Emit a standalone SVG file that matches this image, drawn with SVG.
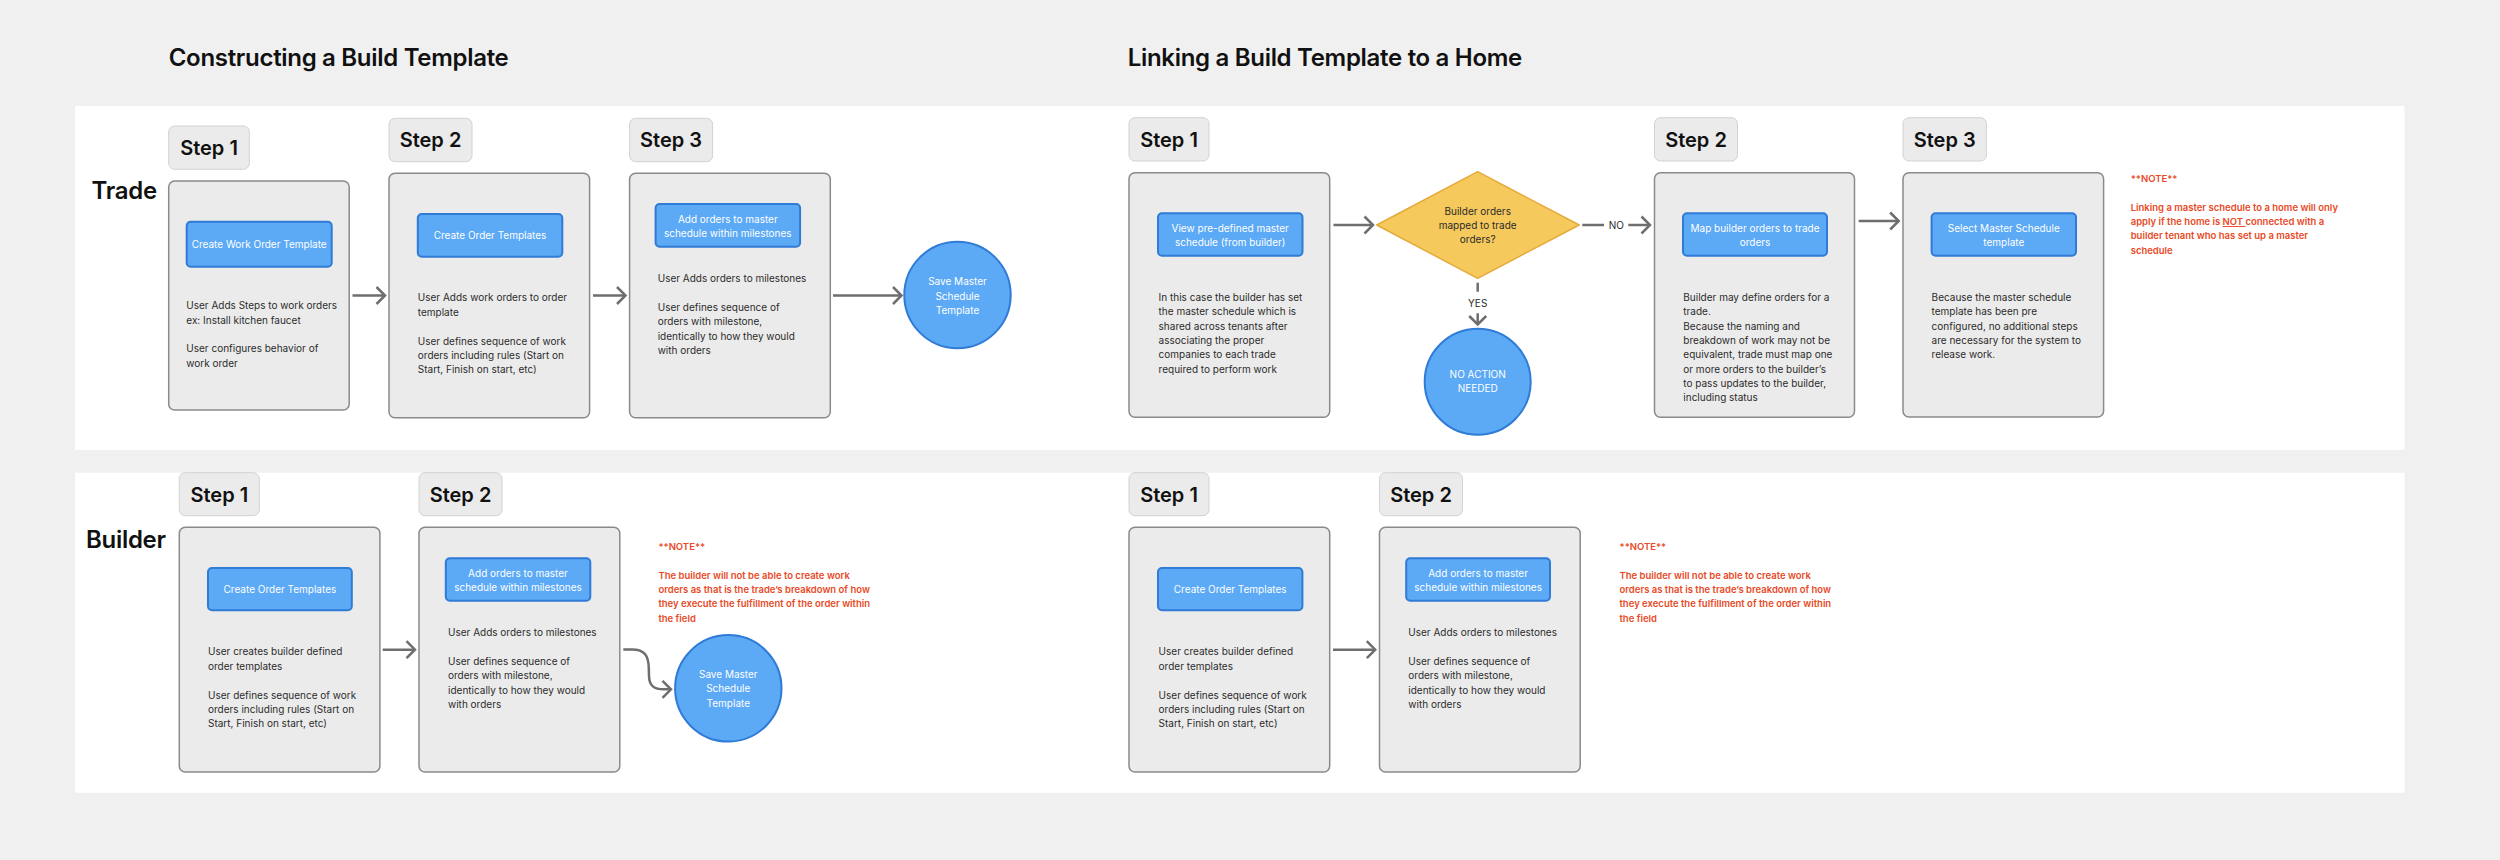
<svg xmlns="http://www.w3.org/2000/svg" width="2500" height="860" viewBox="0 0 2500 860">
<defs>
<style>
.title{font-family:Inter,"Liberation Sans",sans-serif;font-size:24px;font-weight:600;fill:#111;letter-spacing:-0.3px}
.lane{font-family:Inter,"Liberation Sans",sans-serif;font-size:24px;font-weight:600;fill:#111;letter-spacing:-0.3px}
.steplbl{fill:#ebebeb;stroke:#d2d2d2;stroke-width:1}
.steptxt{font-family:Inter,"Liberation Sans",sans-serif;font-size:20px;font-weight:600;fill:#111;text-anchor:middle}
.card{fill:#ebebeb;stroke:#8a8a8a;stroke-width:1.5}
.btn{fill:#5ca9f6;stroke:#2f7bd6;stroke-width:2}
.btxt{font-family:Inter,"Liberation Sans",sans-serif;font-size:10px;fill:#fff;text-anchor:middle}
.body{font-family:Inter,"Liberation Sans",sans-serif;font-size:10px;fill:#2b2b2b}
.circ{fill:#5ca9f6;stroke:#2f7bd6;stroke-width:2}
.note{font-family:Inter,"Liberation Sans",sans-serif;font-size:9.5px;font-weight:600;fill:#e84a27}
.dtxt{font-family:Inter,"Liberation Sans",sans-serif;font-size:10px;fill:#2b2b2b;text-anchor:middle}
.conn{fill:none;stroke:#6e6e6e;stroke-width:2.5}
</style>
<marker id="arr" markerUnits="userSpaceOnUse" viewBox="0 0 12 20" refX="10" refY="10" markerWidth="12" markerHeight="20" orient="auto">
<path d="M1.5,1.5 L10,10 L1.5,18.5" fill="none" stroke="#6e6e6e" stroke-width="2.5"/>
</marker>
</defs>
<rect x="0" y="0" width="2500" height="860" fill="#f0f0f0"/>
<rect x="75" y="106" width="2329.5" height="344" fill="#fff"/>
<rect x="75" y="472.7" width="2329.5" height="320" fill="#fff"/>

<text class="title" x="168.7" y="66">Constructing a Build Template</text>
<text class="title" x="1127.7" y="66">Linking a Build Template to a Home</text>
<text class="lane" x="91.6" y="199">Trade</text>
<text class="lane" x="86" y="547.7">Builder</text>

<!-- Trade / constructing -->
<g id="t-c-s1">
<rect class="steplbl" x="168.7" y="126" width="80.6" height="43.3" rx="6"/>
<text class="steptxt" x="209" y="155">Step 1</text>
<rect class="card" x="168.7" y="181" width="180.5" height="229" rx="6"/>
<rect class="btn" x="186.7" y="221.7" width="145" height="45" rx="4"/>
<text class="btxt" x="259.2" y="247.8">Create Work Order Template</text>
<text class="body" x="186.3"><tspan x="186.3" y="309.2">User Adds Steps to work orders</tspan><tspan x="186.3" y="323.5">ex: Install kitchen faucet</tspan><tspan x="186.3" y="352.2">User configures behavior of</tspan><tspan x="186.3" y="366.5">work order</tspan></text>
</g>
<g id="t-c-s2">
<rect class="steplbl" x="389" y="118.3" width="83" height="43.4" rx="6"/>
<text class="steptxt" x="430.5" y="147.3">Step 2</text>
<rect class="card" x="389" y="173.3" width="200.6" height="244.4" rx="6"/>
<rect class="btn" x="417.8" y="214" width="144.5" height="42.7" rx="4"/>
<text class="btxt" x="490" y="238.8">Create Order Templates</text>
<text class="body"><tspan x="417.8" y="301.2">User Adds work orders to order</tspan><tspan x="417.8" y="315.8">template</tspan><tspan x="417.8" y="344.5">User defines sequence of work</tspan><tspan x="417.8" y="358.8">orders including rules (Start on</tspan><tspan x="417.8" y="373.2">Start, Finish on start, etc)</tspan></text>
</g>
<g id="t-c-s3">
<rect class="steplbl" x="629.6" y="118.3" width="83" height="43.4" rx="6"/>
<text class="steptxt" x="671.1" y="147.3">Step 3</text>
<rect class="card" x="629.6" y="173.3" width="200.7" height="244.4" rx="6"/>
<rect class="btn" x="655.6" y="204" width="144.5" height="42.7" rx="4"/>
<text class="btxt"><tspan x="727.8" y="222.5">Add orders to master</tspan><tspan x="727.8" y="236.8">schedule within milestones</tspan></text>
<text class="body"><tspan x="657.7" y="282.2">User Adds orders to milestones</tspan><tspan x="657.7" y="310.8">User defines sequence of</tspan><tspan x="657.7" y="325.2">orders with milestone,</tspan><tspan x="657.7" y="339.5">identically to how they would</tspan><tspan x="657.7" y="353.8">with orders</tspan></text>
</g>
<g id="t-c-save">
<circle class="circ" cx="957.5" cy="295" r="53.2"/>
<text class="btxt"><tspan x="957.5" y="285.2">Save Master</tspan><tspan x="957.5" y="299.5">Schedule</tspan><tspan x="957.5" y="313.8">Template</tspan></text>
</g>

<!-- Trade / linking -->
<g id="t-l-s1">
<rect class="steplbl" x="1129" y="117.7" width="80" height="43.3" rx="6"/>
<text class="steptxt" x="1169" y="146.7">Step 1</text>
<rect class="card" x="1129" y="172.7" width="200.7" height="244.6" rx="6"/>
<rect class="btn" x="1158" y="213.3" width="144.5" height="42.4" rx="4"/>
<text class="btxt"><tspan x="1230.2" y="231.5">View pre-defined master</tspan><tspan x="1230.2" y="245.5">schedule (from builder)</tspan></text>
<text class="body"><tspan x="1158.6" y="300.8">In this case the builder has set</tspan><tspan x="1158.6" y="315.2">the master schedule which is</tspan><tspan x="1158.6" y="329.5">shared across tenants after</tspan><tspan x="1158.6" y="343.8">associating the proper</tspan><tspan x="1158.6" y="358.2">companies to each trade</tspan><tspan x="1158.6" y="372.5">required to perform work</tspan></text>
</g>
<g id="t-l-decision">
<path d="M1477.7,171.7 L1579.2,225 L1477.7,278.3 L1376.7,225 Z" fill="#f6c95d" stroke="#e5a93c" stroke-width="1.5" stroke-linejoin="round"/>
<text class="dtxt"><tspan x="1477.7" y="214.5">Builder orders</tspan><tspan x="1477.7" y="228.8">mapped to trade</tspan><tspan x="1477.7" y="243.2">orders?</tspan></text>
</g>
<g id="t-l-noaction">
<circle class="circ" cx="1477.7" cy="381.7" r="53"/>
<text class="btxt"><tspan x="1477.7" y="377.5">NO ACTION</tspan><tspan x="1477.7" y="391.8">NEEDED</tspan></text>
</g>
<g id="t-l-s2">
<rect class="steplbl" x="1654.5" y="117.7" width="83" height="43.3" rx="6"/>
<text class="steptxt" x="1696" y="146.7">Step 2</text>
<rect class="card" x="1654.5" y="172.7" width="200" height="244.6" rx="6"/>
<rect class="btn" x="1683" y="213.3" width="144" height="42.4" rx="4"/>
<text class="btxt"><tspan x="1755" y="231.5">Map builder orders to trade</tspan><tspan x="1755" y="245.5">orders</tspan></text>
<text class="body"><tspan x="1683.3" y="300.8">Builder may define orders for a</tspan><tspan x="1683.3" y="315.2">trade.</tspan><tspan x="1683.3" y="329.5">Because the naming and</tspan><tspan x="1683.3" y="343.8">breakdown of work may not be</tspan><tspan x="1683.3" y="358.2">equivalent, trade must map one</tspan><tspan x="1683.3" y="372.5">or more orders to the builder’s</tspan><tspan x="1683.3" y="386.8">to pass updates to the builder,</tspan><tspan x="1683.3" y="401.2">including status</tspan></text>
</g>
<g id="t-l-s3">
<rect class="steplbl" x="1903" y="117.7" width="83.4" height="43.3" rx="6"/>
<text class="steptxt" x="1944.7" y="146.7">Step 3</text>
<rect class="card" x="1903" y="172.7" width="200.6" height="244.3" rx="6"/>
<rect class="btn" x="1931.6" y="213.3" width="144.4" height="42.4" rx="4"/>
<text class="btxt"><tspan x="2003.8" y="231.5">Select Master Schedule</tspan><tspan x="2003.8" y="245.5">template</tspan></text>
<text class="body"><tspan x="1931.6" y="300.8">Because the master schedule</tspan><tspan x="1931.6" y="315.2">template has been pre</tspan><tspan x="1931.6" y="329.5">configured, no additional steps</tspan><tspan x="1931.6" y="343.8">are necessary for the system to</tspan><tspan x="1931.6" y="358.2">release work.</tspan></text>
</g>
<g id="t-l-note">
<text class="note"><tspan x="2130.7" y="182">**NOTE**</tspan><tspan x="2130.7" y="210.6">Linking a master schedule to a home will only</tspan><tspan x="2130.7" y="225">apply if the home is <tspan text-decoration="underline">NOT </tspan> connected with a</tspan><tspan x="2130.7" y="239.3">builder tenant who has set up a master</tspan><tspan x="2130.7" y="253.6">schedule</tspan></text>
</g>

<!-- Builder / constructing -->
<g id="b-c-s1">
<rect class="steplbl" x="179.3" y="472.7" width="80" height="43" rx="6"/>
<text class="steptxt" x="219.3" y="501.5">Step 1</text>
<rect class="card" x="179.3" y="527.3" width="200.6" height="244.7" rx="6"/>
<rect class="btn" x="208" y="568" width="143.8" height="42.3" rx="4"/>
<text class="btxt" x="279.9" y="592.8">Create Order Templates</text>
<text class="body"><tspan x="208" y="655.2">User creates builder defined</tspan><tspan x="208" y="669.8">order templates</tspan><tspan x="208" y="698.5">User defines sequence of work</tspan><tspan x="208" y="712.8">orders including rules (Start on</tspan><tspan x="208" y="727.2">Start, Finish on start, etc)</tspan></text>
</g>
<g id="b-c-s2">
<rect class="steplbl" x="419" y="472.7" width="83" height="43" rx="6"/>
<text class="steptxt" x="460.5" y="501.5">Step 2</text>
<rect class="card" x="419" y="527.3" width="200.8" height="244.7" rx="6"/>
<rect class="btn" x="445.8" y="558.3" width="144.5" height="42.4" rx="4"/>
<text class="btxt"><tspan x="518" y="576.5">Add orders to master</tspan><tspan x="518" y="590.8">schedule within milestones</tspan></text>
<text class="body"><tspan x="448" y="636.2">User Adds orders to milestones</tspan><tspan x="448" y="664.8">User defines sequence of</tspan><tspan x="448" y="679.2">orders with milestone,</tspan><tspan x="448" y="693.5">identically to how they would</tspan><tspan x="448" y="707.8">with orders</tspan></text>
</g>
<g id="b-c-note">
<text class="note"><tspan x="658.4" y="550">**NOTE**</tspan><tspan x="658.4" y="578.7">The builder will not be able to create work</tspan><tspan x="658.4" y="593">orders as that is the trade’s breakdown of how</tspan><tspan x="658.4" y="607.4">they execute the fulfillment of the order within</tspan><tspan x="658.4" y="621.7">the field</tspan></text>
</g>
<g id="b-c-save">
<circle class="circ" cx="728.3" cy="688.3" r="53.2"/>
<text class="btxt"><tspan x="728.3" y="677.8">Save Master</tspan><tspan x="728.3" y="692.2">Schedule</tspan><tspan x="728.3" y="706.5">Template</tspan></text>
</g>

<!-- Builder / linking -->
<g id="b-l-s1">
<rect class="steplbl" x="1129" y="472.7" width="80" height="43" rx="6"/>
<text class="steptxt" x="1169" y="501.5">Step 1</text>
<rect class="card" x="1129" y="527.3" width="200.7" height="244.7" rx="6"/>
<rect class="btn" x="1158" y="568" width="144.4" height="42.3" rx="4"/>
<text class="btxt" x="1230.2" y="592.8">Create Order Templates</text>
<text class="body"><tspan x="1158.6" y="655.2">User creates builder defined</tspan><tspan x="1158.6" y="669.8">order templates</tspan><tspan x="1158.6" y="698.5">User defines sequence of work</tspan><tspan x="1158.6" y="712.8">orders including rules (Start on</tspan><tspan x="1158.6" y="727.2">Start, Finish on start, etc)</tspan></text>
</g>
<g id="b-l-s2">
<rect class="steplbl" x="1379.5" y="472.7" width="83" height="43" rx="6"/>
<text class="steptxt" x="1421" y="501.5">Step 2</text>
<rect class="card" x="1379.5" y="527.3" width="200.7" height="244.7" rx="6"/>
<rect class="btn" x="1406.2" y="558.3" width="143.8" height="42.4" rx="4"/>
<text class="btxt"><tspan x="1478.1" y="576.5">Add orders to master</tspan><tspan x="1478.1" y="590.8">schedule within milestones</tspan></text>
<text class="body"><tspan x="1408.3" y="636.2">User Adds orders to milestones</tspan><tspan x="1408.3" y="664.8">User defines sequence of</tspan><tspan x="1408.3" y="679.2">orders with milestone,</tspan><tspan x="1408.3" y="693.5">identically to how they would</tspan><tspan x="1408.3" y="707.8">with orders</tspan></text>
</g>
<g id="b-l-note">
<text class="note"><tspan x="1619.5" y="550">**NOTE**</tspan><tspan x="1619.5" y="578.7">The builder will not be able to create work</tspan><tspan x="1619.5" y="593">orders as that is the trade’s breakdown of how</tspan><tspan x="1619.5" y="607.4">they execute the fulfillment of the order within</tspan><tspan x="1619.5" y="621.7">the field</tspan></text>
</g>

<g id="connectors">
<line class="conn" x1="352.5" y1="295.5" x2="385" y2="295.5" marker-end="url(#arr)"/>
<line class="conn" x1="593" y1="295.5" x2="625.5" y2="295.5" marker-end="url(#arr)"/>
<line class="conn" x1="833" y1="295.5" x2="901.5" y2="295.5" marker-end="url(#arr)"/>
<line class="conn" x1="1333.5" y1="225" x2="1373" y2="225" marker-end="url(#arr)"/>
<line class="conn" x1="1582.3" y1="225" x2="1604" y2="225"/>
<text class="dtxt" x="1616.3" y="228.6">NO</text>
<line class="conn" x1="1628.3" y1="225" x2="1650" y2="225" marker-end="url(#arr)"/>
<line class="conn" x1="1477.7" y1="282.7" x2="1477.7" y2="291.7"/>
<text class="dtxt" x="1477.7" y="306.9">YES</text>
<line class="conn" x1="1477.7" y1="313.3" x2="1477.7" y2="324.5" marker-end="url(#arr)"/>
<line class="conn" x1="1858.7" y1="221" x2="1898.7" y2="221" marker-end="url(#arr)"/>
<line class="conn" x1="382.7" y1="649.7" x2="415" y2="649.7" marker-end="url(#arr)"/>
<path class="conn" d="M623.3,649.5 L632,649.5 C645,649.5 648.5,656 648.8,668 L649,676 C649.3,686 654,689.3 664,689.3 L671,689.3" marker-end="url(#arr)"/>
<line class="conn" x1="1333" y1="649.7" x2="1375.3" y2="649.7" marker-end="url(#arr)"/>
</g>
</svg>
